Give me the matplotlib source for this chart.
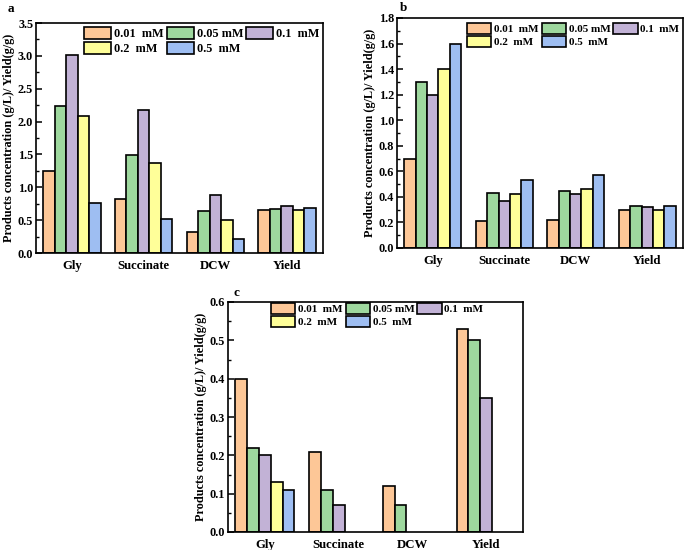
import numpy as np
import matplotlib
matplotlib.use("Agg")
import matplotlib.pyplot as plt
from matplotlib.ticker import MultipleLocator, AutoMinorLocator

plt.rcParams['font.family'] = ['Liberation Serif', 'DejaVu Serif']
plt.rcParams['font.weight'] = 'bold'

categories = ['Gly', 'Succinate', 'DCW', 'Yield']
conc_labels = ['0.01  mM', '0.05 mM', '0.1  mM', '0.2  mM', '0.5  mM']
colors = ['#FDC797', '#9ED89E', '#C2B2D6', '#FFFF99', '#9EBEF2']

# panel a
a_001 = [1.25, 0.82, 0.32, 0.66]
a_005 = [2.23, 1.49, 0.64, 0.67]
a_01 = [3.01, 2.17, 0.89, 0.72]
a_02 = [2.08, 1.37, 0.50, 0.66]
a_05 = [0.76, 0.51, 0.22, 0.68]

# panel b
b_001 = [0.70, 0.21, 0.22, 0.30]
b_005 = [1.30, 0.43, 0.45, 0.33]
b_01 = [1.20, 0.37, 0.42, 0.32]
b_02 = [1.40, 0.42, 0.46, 0.30]
b_05 = [1.60, 0.53, 0.57, 0.33]

# panel c (missing bars = 0)
c_001 = [0.40, 0.21, 0.12, 0.53]
c_005 = [0.22, 0.11, 0.07, 0.50]
c_01 = [0.20, 0.07, 0.0, 0.35]
c_02 = [0.13, 0.0, 0.0, 0.0]
c_05 = [0.11, 0.0, 0.0, 0.0]

W, H = 685, 550
fig = plt.figure(figsize=(W / 100, H / 100), dpi=100)


def px_axes(left, top, right, bottom):
    return fig.add_axes([left / W, 1 - bottom / H, (right - left) / W, (bottom - top) / H])


def draw_panel(ax, series, ymax, ystep, letter, letter_px, leg_xy, leg_size=8):
    x = np.arange(1, len(categories) + 1)
    bw = 0.16
    handles = []
    for i, vals in enumerate(series):
        vals = np.array(vals)
        pos = x + (i - 2) * bw
        mask = vals > 0
        ax.bar(pos[mask], vals[mask], width=bw, color=colors[i],
               edgecolor='black', linewidth=1.2)
        h = plt.Rectangle((0, 0), 1, 1, facecolor=colors[i], edgecolor='black', linewidth=1.2)
        handles.append(h)
    ax.set_xlim(0.5, 4.5)
    ax.set_ylim(0, ymax)
    ax.yaxis.set_major_locator(MultipleLocator(ystep))
    ax.yaxis.set_minor_locator(AutoMinorLocator(2))
    ax.yaxis.set_major_formatter(plt.FormatStrFormatter('%.1f'))
    ax.set_xticks(x)
    ax.set_xticklabels(categories, fontsize=9.2, fontweight='bold')
    ax.tick_params(axis='x', length=0, pad=5)
    ax.tick_params(axis='y', which='major', direction='in', length=4, width=1.1, labelsize=8.8, pad=2)
    ax.tick_params(axis='y', which='minor', direction='in', length=2, width=1.0)
    for lbl in ax.get_yticklabels():
        lbl.set_fontweight('bold')
    for sp in ax.spines.values():
        sp.set_linewidth(1.2)
    ax.set_ylabel('Products concentration (g/L)/ Yield(g/g)', fontsize=8.8, fontweight='bold', labelpad=2)
    fig.text(letter_px[0] / W, 1 - letter_px[1] / H, letter, fontsize=9.5, fontweight='bold',
             ha='center', va='center')
    # column-major fill to get row order 0.01,0.05,0.1 / 0.2,0.5
    order = [0, 3, 1, 4, 2]
    leg = ax.legend([handles[k] for k in order], [conc_labels[k] for k in order],
                    ncol=3, frameon=False, loc='upper left',
                    bbox_to_anchor=(leg_xy[0] / W, 1 - leg_xy[1] / H),
                    bbox_transform=fig.transFigure,
                    handlelength=2.2, handleheight=1.1, handletextpad=0.25,
                    columnspacing=0.25, labelspacing=0.2, borderpad=0, borderaxespad=0,
                    prop={'size': leg_size, 'weight': 'bold'})
    return leg


ax_a = px_axes(36, 23, 323, 253)
draw_panel(ax_a, [a_001, a_005, a_01, a_02, a_05], 3.5, 0.5, 'a', (11, 9), (84, 27), leg_size=8.8)

ax_b = px_axes(397, 18, 683, 248)
draw_panel(ax_b, [b_001, b_005, b_01, b_02, b_05], 1.8, 0.2, 'b', (404, 8), (467, 23))

ax_c = px_axes(228, 302, 523, 532)
draw_panel(ax_c, [c_001, c_005, c_01, c_02, c_05], 0.6, 0.1, 'c', (236, 293), (271, 303))

fig.savefig('out.png', dpi=100)
